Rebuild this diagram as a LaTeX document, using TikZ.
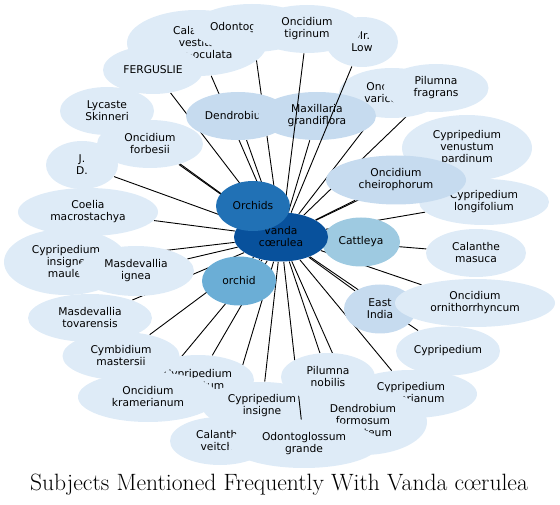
\documentclass[tikz,border=0pt]{standalone}
\usepackage{fontspec}
\usetikzlibrary{shapes.geometric}
\newfontfamily\labelfont{DejaVu Sans}
\pgfdeclarelayer{edges}
\pgfsetlayers{edges,main}

\tikzset{every picture/.style={line width=0.9pt}}

\begin{document}
\begin{tikzpicture}[x=1pt,y=1pt,yscale=-1,xscale=1,
        subj/.style={ellipse, inner sep=0pt, align=center, fill={rgb, 255:red, 222; green, 235; blue, 247},
            font=\labelfont\fontsize{10.7}{12}\selectfont},
        mid/.style={subj, fill={rgb, 255:red, 198; green, 219; blue, 239}},
        sz/.style 2 args={minimum width=#1, minimum height=#2},
        link/.style={line width=0.9pt, color=black}]
        \useasboundingbox (0,0) rectangle (560,505);

        %Ellipses, back to front
        \node [subj, fill={rgb, 255:red, 158; green, 202; blue, 225}, sz={78}{49}] (cattleya) at (361,242) {Cattleya};
        \node [subj, fill={rgb, 255:red, 8; green, 81; blue, 156}, sz={94}{49}] (vanda) at (281,237) {vanda\\cœrulea};
        \node [subj, sz={140}{66}] (calvest) at (197,43) {Calanthe\\vestita\\luteo-oculata};
        \node [subj, sz={116}{48}] (odonto) at (252,28) {Odontoglossum};
        \node [subj, sz={100}{48}] (ferguslie) at (153,70) {FERGUSLIE};
        \node [subj, sz={72}{50}] (low) at (362,42) {Mr.\\Low};
        \node [subj, sz={109}{48}] (tigrinum) at (307,29) {Oncidium\\tigrinum};
        \node [subj, sz={94}{48}] (lycaste) at (107,111) {Lycaste\\Skinneri};
        \node [subj, sz={106}{48}] (forbesii) at (150,144) {Oncidium\\forbesii};
        \node [subj, sz={72}{48}] (jd) at (82,165) {J.\\D.};
        \node [subj, sz={140}{48}] (coelia) at (88,212) {Coelia\\macrostachya};
        \node [subj, sz={124}{66}] (maulei) at (66,262) {Cypripedium\\insigne\\maulei};
        \node [subj, sz={116}{50}] (ignea) at (136,271) {Masdevallia\\ignea};
        \node [subj, sz={124}{48}] (tovarensis) at (90,318) {Masdevallia\\tovarensis};
        \node [subj, sz={112}{50}] (barbatum) at (198,380) {Cypripedium\\barbatum};
        \node [subj, sz={117}{48}] (mastersii) at (121,356) {Cymbidium\\mastersii};
        \node [subj, sz={140}{50}] (kramer) at (148,397) {Oncidium\\kramerianum};
        \node [subj, sz={100}{48}] (veitchii) at (220,441) {Calanthe\\veitchii};
        \node [subj, sz={120}{48}] (insigne) at (262,406) {Cypripedium\\insigne};
        \node [subj, sz={132}{48}] (spicer) at (411,394) {Cypripedium\\Spicerianum};
        \node [subj, sz={128}{66}] (formosum) at (363,422) {Dendrobium\\formosum\\giganteum};
        \node [subj, sz={150}{48}] (grande) at (304,444) {Odontoglossum\\grande};
        %Straight Lines
        \draw [link] (vanda) -- (grande);
        \node [subj, sz={94}{48}] (nobilis) at (328,377) {Pilumna\\nobilis};
        \node [subj, sz={104}{49}] (cyprip) at (448,351) {Cypripedium};
        \node [mid, sz={72}{49}] (eastindia) at (380,309) {East\\India};
        \node [subj, sz={160}{48}] (ornitho) at (475,303) {Oncidium\\ornithorrhyncum};
        \node [subj, sz={100}{48}] (masuca) at (476,253) {Calanthe\\masuca};
        \node [subj, sz={130}{46}] (longifol) at (484,202) {Cypripedium\\longifolium};
        \node [subj, sz={130}{66}] (venustum) at (467,148) {Cypripedium\\venustum\\pardinum};
        \node [mid, sz={140}{49}] (cheiro) at (396,180) {Oncidium\\cheirophorum};
        \node [subj, sz={106}{50}] (varicos) at (392,93) {Oncidium\\varicosum};
        \node [subj, sz={105}{48}] (fragrans) at (436,88) {Pilumna\\fragrans};
        \node [mid, sz={104}{48}] (dendro) at (238,116) {Dendrobium};
        \node [mid, sz={118}{48}] (maxill) at (317,116) {Maxillaria\\grandiflora};
        %Straight Lines
        \draw [link] (vanda) -- (tigrinum);
        \draw [link] (vanda) -- (low);
        \node [subj, fill={rgb, 255:red, 107; green, 174; blue, 214}, sz={74}{49}] (orchid) at (239,281) {orchid};
        \node [subj, fill={rgb, 255:red, 33; green, 113; blue, 181}, sz={74}{50}] (orchids) at (253,206) {Orchids};

        %Straight Lines, behind the ellipses
        \begin{pgfonlayer}{edges}
        \foreach \n in {cattleya,calvest,odonto,ferguslie,lycaste,forbesii,jd,coelia,maulei,ignea,
                tovarensis,barbatum,mastersii,kramer,veitchii,insigne,spicer,formosum,nobilis,cyprip,
                eastindia,ornitho,masuca,longifol,venustum,cheiro,varicos,fragrans,dendro,maxill,orchid,orchids}
            \draw [link] (vanda) -- (\n);
        \end{pgfonlayer}

        % Text Node
        \node [anchor=base, font=\fontsize{23.6}{28}\selectfont] (title) at (279,490) {Subjects Mentioned Frequently With Vanda cœrulea};
\end{tikzpicture}
\end{document}
